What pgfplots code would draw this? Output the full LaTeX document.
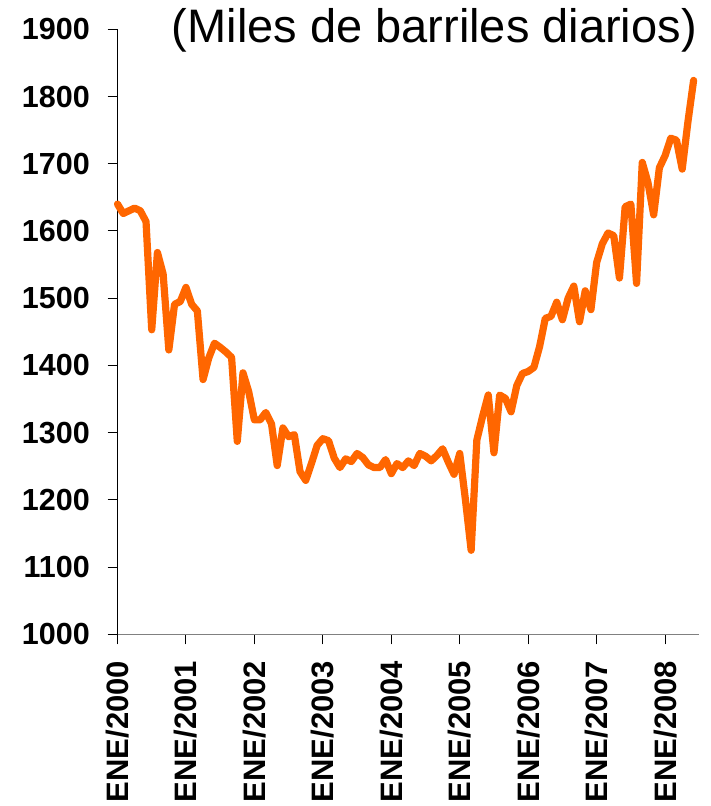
\documentclass[border=0pt]{standalone}
\usepackage{fontspec}
\setmainfont{Liberation Sans}
\usepackage{pgfplots}
\pgfplotsset{compat=1.18}
\definecolor{lineorange}{RGB}{255,102,0}
\definecolor{axgray}{RGB}{128,128,128}
\begin{document}
\begin{tikzpicture}
\useasboundingbox (0,0) rectangle (711bp,806bp);
\begin{axis}[
  at={(117.5bp,171.7bp)}, anchor=south west,
  scale only axis, width=581.8bp, height=605bp,
  xmin=0, xmax=102, ymin=1000, ymax=1900,
  axis x line=bottom, axis y line=left,
  x axis line style={-, draw=axgray, line width=1.2bp},
  y axis line style={-, draw=black, line width=1.2bp},
  tick align=outside, major tick length=10bp,
  every tick/.style={black, line width=1bp},
  xtick={0,12,...,96},
  xticklabels={ENE/2000,ENE/2001,ENE/2002,ENE/2003,ENE/2004,ENE/2005,ENE/2006,ENE/2007,ENE/2008},
  ytick={1000,1100,...,1900},
  minor tick num=0,
  x tick label style={rotate=90, anchor=east, inner sep=0pt, font=\fontsize{31bp}{31bp}\selectfont\bfseries},
  y tick label style={anchor=east, inner sep=0pt, font=\fontsize{30.5bp}{30.5bp}\selectfont\bfseries},
  xticklabel shift=16.5bp, yticklabel shift=17.5bp,
  /pgf/number format/assume math mode=true,
  /pgf/number format/1000 sep={},
  clip=false,
]
\addplot[lineorange, line width=7.2bp, line join=round, line cap=round, mark=none] coordinates {
(0,1640) (1,1626) (2,1630) (3,1634) (4,1630) (5,1614) (6,1453) (7,1568) (8,1536) (9,1423)
(10,1491) (11,1495) (12,1516) (13,1491) (14,1481) (15,1379) (16,1411) (17,1433) (18,1427) (19,1420)
(20,1412) (21,1287) (22,1389) (23,1361) (24,1319) (25,1319) (26,1330) (27,1313) (28,1251) (29,1307)
(30,1294) (31,1297) (32,1242) (33,1229) (34,1254) (35,1281) (36,1291) (37,1288) (38,1262) (39,1248)
(40,1261) (41,1257) (42,1269) (43,1263) (44,1252) (45,1248) (46,1248) (47,1260) (48,1239) (49,1254)
(50,1248) (51,1258) (52,1251) (53,1269) (54,1265) (55,1258) (56,1266) (57,1276) (58,1256) (59,1238)
(60,1269) (61,1200) (62,1125) (63,1289) (64,1324) (65,1356) (66,1270) (67,1356) (68,1351) (69,1331)
(70,1370) (71,1388) (72,1391) (73,1397) (74,1428) (75,1470) (76,1473) (77,1494) (78,1468) (79,1500)
(80,1518) (81,1465) (82,1511) (83,1483) (84,1553) (85,1581) (86,1597) (87,1593) (88,1530) (89,1636)
(90,1640) (91,1522) (92,1702) (93,1672) (94,1624) (95,1694) (96,1712) (97,1738) (98,1735) (99,1692)
(100,1762) (101,1824)
};
\end{axis}
\node[anchor=north east, inner sep=0pt, font=\fontsize{47bp}{47bp}\selectfont] at (697bp,798bp) {(Miles de barriles diarios)};
\end{tikzpicture}
\end{document}
